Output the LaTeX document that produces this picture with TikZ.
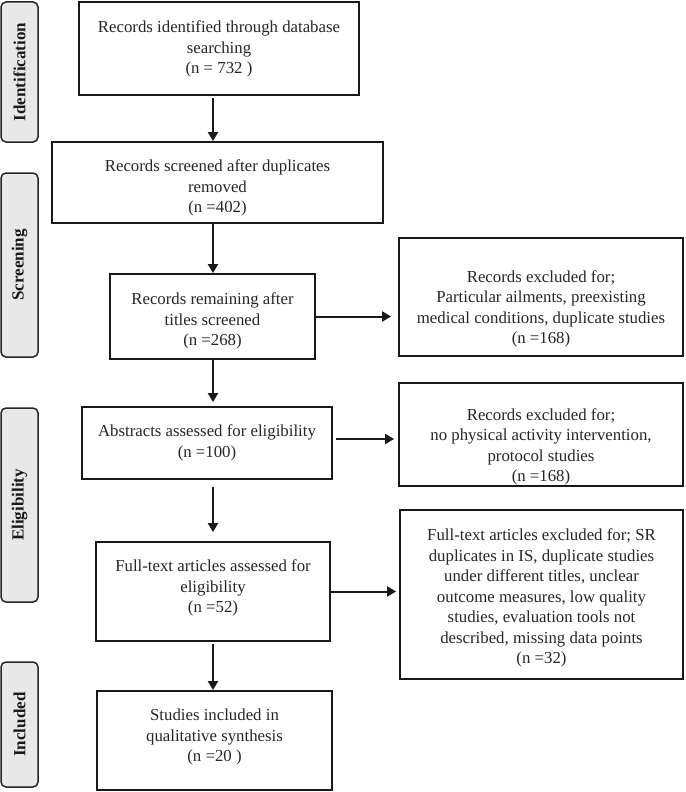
\documentclass[tikz,border=0pt]{standalone}
\usepackage{fontspec}
\setmainfont{Liberation Serif}
\usetikzlibrary{arrows.meta,calc}
\tikzset{
  box/.style={draw=black!90, line width=1.8pt, rectangle, inner sep=0pt},
  txt/.style={align=center, inner sep=0pt, text=black!85, font=\fontsize{16.8}{20.5}\selectfont},
  phase/.style={draw=black!85, line width=1.5pt, fill=black!9, rounded corners=5pt, rotate=90, inner sep=0pt, text=black!90, font=\fontsize{17}{20}\selectfont\bfseries},
  arr/.style={draw=black!90, line width=2pt, -{Triangle[length=9pt,width=10pt]}}
}
\begin{document}
\begin{tikzpicture}[x=1pt,y=-1pt]
\useasboundingbox (0,0) rectangle (685,792);
% phase labels
\node[phase, minimum width=140pt, minimum height=37pt] (p1) at (19.5,72) {Identification};
\node[phase, minimum width=184pt, minimum height=37pt] (p2) at (19.5,265) {Screening};
\node[phase, minimum width=194pt, minimum height=37pt] (p3) at (19.5,505) {Eligibility};
\node[phase, minimum width=125pt, minimum height=37pt] (p4) at (19.5,724.5) {Included};
% main boxes
\node[box, minimum width=280pt, minimum height=93pt] (b1) at (219,48.5) {};
\node[txt] (t1) at (219,49) {Records identified through database\\searching\\(n = 732 )};
\node[box, minimum width=331pt, minimum height=81pt] (b2) at (217.5,182.5) {};
\node[txt] (t2) at (217.5,188) {Records screened after duplicates\\removed\\(n =402)};
\node[box, minimum width=205pt, minimum height=85pt] (b3) at (212.5,316.5) {};
\node[txt] (t3) at (212.5,321) {Records remaining after\\titles screened\\(n =268)};
\node[box, minimum width=250pt, minimum height=72pt] (b4) at (207,443) {};
\node[txt] (t4) at (207,443) {Abstracts assessed for eligibility\\(n =100)};
\node[box, minimum width=234pt, minimum height=99pt] (b5) at (213,591.5) {};
\node[txt] (t5) at (213,588) {Full-text articles assessed for\\eligibility\\(n =52)};
\node[box, minimum width=235pt, minimum height=99pt] (b6) at (214.5,740.5) {};
\node[txt] (t6) at (214.5,737) {Studies included in\\qualitative synthesis\\(n =20 )};
% right boxes
\node[box, minimum width=284pt, minimum height=118pt] (r1) at (541,297) {};
\node[txt] (s1) at (541,309) {Records excluded for;\\Particular ailments, preexisting\\medical conditions, duplicate studies\\(n =168)};
\node[box, minimum width=284pt, minimum height=103pt] (r2) at (541,434.5) {};
\node[txt] (s2) at (541,447) {Records excluded for;\\no physical activity intervention,\\protocol studies\\(n =168)};
\node[box, minimum width=283pt, minimum height=169pt] (r3) at (541.5,594.5) {};
\node[txt] (s3) at (541.5,598) {Full-text articles excluded for; SR\\duplicates in IS, duplicate studies\\under different titles, unclear\\outcome measures, low quality\\studies, evaluation tools not\\described, missing data points\\(n =32)};
% arrows
\coordinate (ax) at (213,0);
\draw[arr, shorten <=2pt] (b1.south -| ax) -- (b2.north -| ax);
\draw[arr] (b2.south -| ax) -- (b3.north -| ax);
\draw[arr, shorten >=4pt] (b3.south -| ax) -- (b4.north -| ax);
\draw[arr, shorten <=7pt, shorten >=9pt] (b4.south -| ax) -- (b5.north -| ax);
\draw[arr, shorten <=2pt] (b5.south -| ax) -- (b6.north -| ax);
\draw[arr, shorten >=7pt] (b3.east) -- (b3.east -| r1.west);
\draw[arr, shorten <=3pt, shorten >=4pt] ($(b4.east)+(0,-4)$) -- ($(b4.east -| r2.west)+(0,-4)$);
\draw[arr, shorten >=3pt] (b5.east) -- (b5.east -| r3.west);
\end{tikzpicture}
\end{document}
